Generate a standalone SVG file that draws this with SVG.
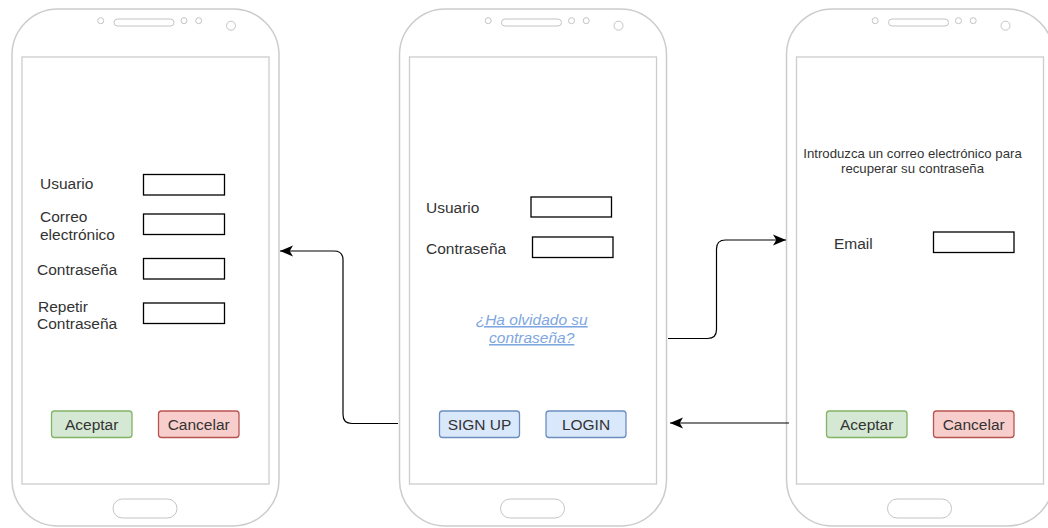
<svg xmlns="http://www.w3.org/2000/svg" width="1048" height="528" viewBox="0 0 1048 528">
  <style>
    .body { fill: #ffffff; stroke: #cccccc; stroke-width: 1.5; }
    .screen { fill: #ffffff; stroke: #cccccc; stroke-width: 1.3; }
    .hw { fill: #ffffff; stroke: #c4c4c4; stroke-width: 1; }
    .lbl { font-family: "Liberation Sans", Arial, sans-serif; font-size: 15.5px; fill: #333333; }
    .small { font-family: "Liberation Sans", Arial, sans-serif; font-size: 13.2px; fill: #333333; }
    .field { fill: #ffffff; stroke: #000000; stroke-width: 1.3; }
    .ok { fill: #d5e8d4; stroke: #82b366; stroke-width: 1.3; }
    .cancel { fill: #f8cecc; stroke: #b85450; stroke-width: 1.3; }
    .blue { fill: #dae8fc; stroke: #6c8ebf; stroke-width: 1.3; }
    .btxt { font-family: "Liberation Sans", Arial, sans-serif; font-size: 15.5px; fill: #333333; text-anchor: middle; }
    .link { font-family: "Liberation Sans", Arial, sans-serif; font-size: 15.5px; font-style: italic; fill: #7ea6e0; text-anchor: middle; text-decoration: underline; }
    .edge { fill: none; stroke: #000000; stroke-width: 1.2; }
  </style>
  <defs>
    <marker id="arrow" markerUnits="userSpaceOnUse" markerWidth="13" markerHeight="13" viewBox="0 0 10 10" refX="10" refY="5" orient="auto">
      <path d="M0,0.8 L10,5 L0,9.2 L2.5,5 Z" fill="#000000"/>
    </marker>
    <!-- phone shell reused for all three screens -->
    <g id="phone">
      <rect class="body" x="0" y="0" width="267" height="517" rx="46" ry="46"/>
      <rect class="screen" x="10" y="48" width="247" height="427"/>
      <circle class="hw" cx="88.7" cy="11.7" r="3"/>
      <rect class="hw" x="102" y="10" width="60" height="7" rx="3.5"/>
      <circle class="hw" cx="172" cy="11.7" r="3"/>
      <circle class="hw" cx="186.7" cy="11.7" r="3"/>
      <circle class="hw" cx="219" cy="16.7" r="4.5"/>
      <rect class="hw" x="101" y="490" width="64" height="19" rx="9.5"/>
    </g>
  </defs>

  <!-- registration screen -->
  <g id="signup-screen">
    <use href="#phone" x="12" y="9"/>
    <text class="lbl" x="40" y="189">Usuario</text>
    <rect class="field" x="143.5" y="174.5" width="81" height="20.5"/>
    <text class="lbl" x="40" y="222">Correo</text>
    <text class="lbl" x="40" y="240">electrónico</text>
    <rect class="field" x="143.5" y="214" width="81" height="20.5"/>
    <text class="lbl" x="37" y="275">Contraseña</text>
    <rect class="field" x="143.5" y="258.5" width="81" height="20.5"/>
    <text class="lbl" x="38" y="311.5">Repetir</text>
    <text class="lbl" x="37" y="329">Contraseña</text>
    <rect class="field" x="143.5" y="303" width="81" height="20.5"/>
    <rect class="ok" x="51.5" y="411" width="80.5" height="26.5" rx="3"/>
    <text class="btxt" x="91.7" y="429.5">Aceptar</text>
    <rect class="cancel" x="158.5" y="411" width="80.5" height="26.5" rx="3"/>
    <text class="btxt" x="198.7" y="429.5">Cancelar</text>
  </g>

  <!-- login screen -->
  <g id="login-screen">
    <use href="#phone" x="399.5" y="9"/>
    <text class="lbl" x="426" y="212.5">Usuario</text>
    <rect class="field" x="531" y="197" width="80.5" height="20"/>
    <text class="lbl" x="426" y="253.5">Contraseña</text>
    <rect class="field" x="532.5" y="237" width="80.5" height="20.5"/>
    <text class="link" x="531.7" y="325">¿Ha olvidado su</text>
    <text class="link" x="531.7" y="343">contraseña?</text>
    <rect class="blue" x="439.5" y="411" width="80" height="26.5" rx="3"/>
    <text class="btxt" x="479.5" y="429.5">SIGN UP</text>
    <rect class="blue" x="546" y="411" width="80" height="26.5" rx="3"/>
    <text class="btxt" x="586" y="429.5">LOGIN</text>
  </g>

  <!-- password recovery screen -->
  <g id="recover-screen">
    <use href="#phone" x="786.5" y="9"/>
    <text class="small" x="912.5" y="158" text-anchor="middle">Introduzca un correo electrónico para</text>
    <text class="small" x="912.5" y="173" text-anchor="middle">recuperar su contraseña</text>
    <text class="lbl" x="834" y="248.5">Email</text>
    <rect class="field" x="933.5" y="232" width="80.5" height="20.5"/>
    <rect class="ok" x="826.5" y="411" width="80.5" height="26.5" rx="3"/>
    <text class="btxt" x="866.7" y="429.5">Aceptar</text>
    <rect class="cancel" x="933.5" y="411" width="80.5" height="26.5" rx="3"/>
    <text class="btxt" x="973.7" y="429.5">Cancelar</text>
  </g>

  <!-- navigation between screens -->
  <g id="connectors">
    <path class="edge" d="M398,423.5 L352,423.5 Q343,423.5 343,414.5 L343,260 Q343,251 334,251 L280,251" marker-end="url(#arrow)"/>
    <path class="edge" d="M668,338.5 L707.5,338.5 Q716.5,338.5 716.5,329.5 L716.5,249 Q716.5,240 725.5,240 L786,240" marker-end="url(#arrow)"/>
    <path class="edge" d="M789,423 L670,423" marker-end="url(#arrow)"/>
  </g>
</svg>
